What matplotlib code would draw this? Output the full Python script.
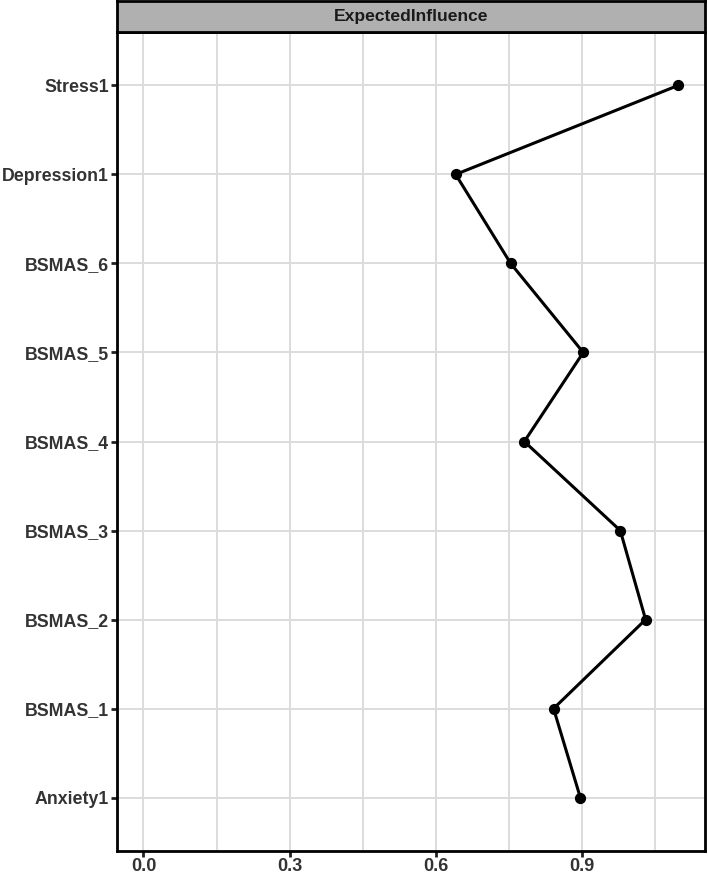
import matplotlib
matplotlib.use("Agg")
import matplotlib.pyplot as plt
from matplotlib.ticker import MultipleLocator

plt.rcParams["font.family"] = ["Liberation Sans", "DejaVu Sans"]

# node order bottom -> top, as drawn on the y axis
nodes = ["Anxiety1", "BSMAS_1", "BSMAS_2", "BSMAS_3", "BSMAS_4",
         "BSMAS_5", "BSMAS_6", "Depression1", "Stress1"]
expected_influence = [0.897, 0.842, 1.031, 0.979, 0.782,
                      0.903, 0.754, 0.641, 1.098]
x_ticks = [0.0, 0.3, 0.6, 0.9]
strip_label = "ExpectedInfluence"

fig = plt.figure(figsize=(7.08, 8.74), dpi=100)

# main panel
ax = fig.add_axes([0.1648, 0.0263, 0.831, 0.9371])
ypos = list(range(1, len(nodes) + 1))
ax.plot(expected_influence, ypos, color="black", lw=2.2, zorder=3)
ax.scatter(expected_influence, ypos, s=50, color="black", zorder=4)

ax.set_xlim(-0.055, 1.153)
ax.set_ylim(0.4, len(nodes) + 0.6)
ax.set_xticks(x_ticks)
ax.set_xticklabels([f"{v:.1f}" for v in x_ticks])
ax.xaxis.set_minor_locator(MultipleLocator(0.15))
ax.set_yticks(ypos)
ax.set_yticklabels(nodes)

ax.grid(which="both", color="#dcdcdc", lw=1.4, zorder=0)
ax.set_axisbelow(True)
for s in ax.spines.values():
    s.set_linewidth(2.0)
    s.set_color("black")
ax.tick_params(axis="both", which="major", length=4, width=2, color="#222222",
               labelcolor="#333333", pad=1.5)
ax.tick_params(axis="y", labelsize=12.8)
ax.tick_params(axis="x", labelsize=13, pad=1)
ax.tick_params(axis="x", which="minor", length=0)
for lab in ax.get_xticklabels() + ax.get_yticklabels():
    lab.set_fontweight("bold")

# facet strip on top
sax = fig.add_axes([0.1648, 0.9634, 0.831, 0.0355])
sax.set_facecolor("#b0b0b0")
sax.set_xticks([]); sax.set_yticks([])
for s in sax.spines.values():
    s.set_linewidth(2.0)
    s.set_color("black")
sax.text(0.5, 0.5, strip_label, ha="center", va="center",
         fontsize=12.6, fontweight="bold", color="#1a1a1a",
         transform=sax.transAxes)

fig.savefig("out.png", dpi=100)
